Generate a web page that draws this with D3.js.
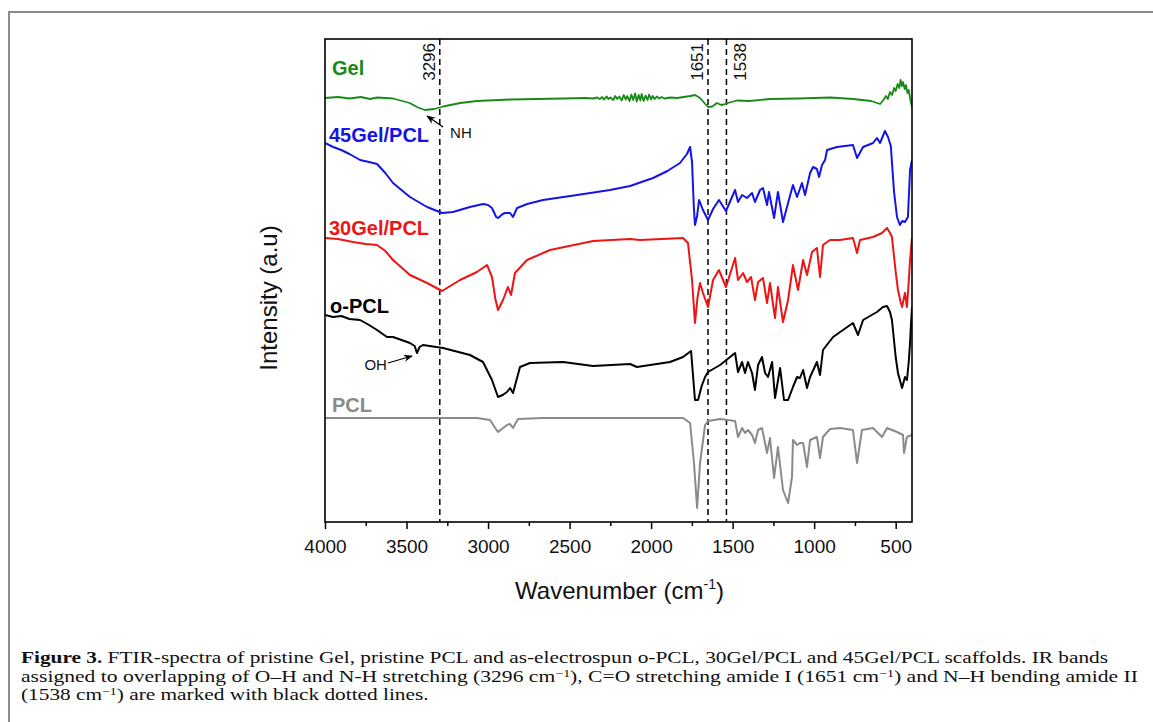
<!DOCTYPE html>
<html>
<head>
<meta charset="utf-8">
<script src="https://cdn.jsdelivr.net/npm/d3@7"></script>
<style>
    body { margin: 0; background: #fff; }
    svg text { font-family: "Liberation Sans", Arial, sans-serif; }
    svg text.caption { font-family: "Liberation Serif", "Times New Roman", serif; }
</style>
</head>
<body>
<svg id="chart" width="1153" height="722"></svg>
<script>
// x axis ticks (wavenumber, cm-1)
const wavenumberTicks = [4000, 3500, 3000, 2500, 2000, 1500, 1000, 500];
const minorTicks = [3750, 3250, 2750, 2250, 1750, 1250, 750];
// bands marked with dashed lines
const markerBands = [3296, 1651, 1538];

// spectra: [wavenumber, intensity (a.u.)], stacked with offsets as in the figure
const gelData = [
    [4000, 42.4], [3920, 42.5], [3850, 42.35], [3780, 42.5], [3724, 42.3], [3680, 42.45], [3583, 42.35],
    [3480, 41.9], [3430, 41.45], [3387, 41.2], [3330, 41.3], [3276, 41.55], [3170, 41.9], [3068, 42.1],
    [2865, 42.25], [2700, 42.3], [2540, 42.35], [2400, 42.4], [2356, 42.35], [2330, 42.45], [2315, 42.3],
    [2300, 42.5], [2290, 42.25], [2272, 42.55], [2262, 42.3], [2250, 42.45], [2232, 42.2], [2220, 42.6],
    [2208, 42.3], [2195, 42.55], [2180, 42.15], [2168, 42.7], [2155, 42.25], [2147, 42.6], [2132, 42.1],
    [2121, 42.75], [2110, 42.2], [2098, 42.85], [2088, 42.05], [2076, 42.7], [2066, 42.15], [2058, 42.8],
    [2046, 42.1], [2034, 42.65], [2022, 42.2], [2012, 42.75], [2000, 42.25], [1990, 42.6], [1978, 42.3],
    [1965, 42.55], [1950, 42.35], [1936, 42.5], [1920, 42.35], [1880, 42.45], [1840, 42.4],
    [1800, 42.5], [1760, 42.6], [1730, 42.7], [1700, 42.4], [1665, 41.75], [1651, 41.5],
    [1625, 41.55], [1596, 41.9], [1570, 41.7], [1555, 41.75], [1520, 41.95], [1473, 42.15], [1400, 42.1],
    [1270, 42.3], [1100, 42.35], [900, 42.45], [760, 42.3], [650, 42.1], [596, 41.8], [575, 42.2],
    [560, 42.6], [548, 42.3], [535, 43.0], [522, 42.7], [510, 43.4], [500, 43.1], [488, 43.8],
    [478, 43.4], [470, 44.2], [462, 43.6], [455, 44.0], [445, 43.3], [437, 43.7], [428, 42.9],
    [420, 43.2], [412, 42.4], [400, 41.5]
];
const gelPcl45Data = [
    [4000, 37.9], [3950, 37.5], [3900, 37.2], [3850, 36.8], [3785, 36.2], [3730, 36.0], [3681, 35.8],
    [3630, 34.9], [3583, 33.9], [3479, 32.5], [3374, 31.5], [3282, 30.9], [3215, 31.0], [3111, 31.5],
    [3030, 31.8], [3000, 31.7], [2976, 31.4], [2950, 30.5], [2939, 30.4], [2910, 30.8], [2896, 30.9],
    [2865, 30.9], [2847, 30.5], [2822, 31.4], [2760, 31.8], [2663, 32.2], [2454, 32.7], [2252, 33.2],
    [2129, 33.6], [1988, 34.4], [1900, 35.1], [1823, 35.9], [1780, 36.8], [1761, 37.5], [1749, 36.0],
    [1738, 31.5], [1731, 29.7], [1718, 30.6], [1706, 32.2], [1682, 31.2], [1651, 30.2], [1620, 31.3],
    [1584, 32.2], [1541, 31.1], [1485, 33.2], [1467, 32.0], [1442, 32.7], [1412, 32.4], [1381, 32.9],
    [1363, 32.0], [1332, 33.2], [1314, 33.4], [1289, 31.7], [1277, 33.0], [1246, 30.4], [1222, 33.0],
    [1191, 30.0], [1160, 31.9], [1130, 33.7], [1105, 32.5], [1075, 33.9], [1056, 32.7], [1025, 34.9],
    [1007, 35.5], [983, 35.3], [970, 34.5], [952, 35.7], [933, 36.2], [921, 37.2], [860, 37.5],
    [762, 37.7], [737, 36.4], [700, 37.5], [639, 37.9], [615, 38.4], [596, 37.9], [566, 39.1],
    [547, 38.5], [530, 37.6], [510, 33.0], [492, 30.5], [474, 29.7], [460, 30.1], [443, 30.0],
    [425, 30.5], [418, 33.0], [412, 35.2], [400, 36.2]
];
const gelPcl30Data = [
    [4000, 28.4], [3920, 28.3], [3828, 28.0], [3750, 27.8], [3681, 27.7], [3630, 27.1], [3583, 26.2],
    [3479, 24.7], [3374, 23.9], [3282, 23.1], [3172, 24.2], [3068, 25.0], [3006, 25.7], [2976, 24.5],
    [2955, 22.3], [2939, 21.2], [2908, 22.2], [2878, 23.5], [2859, 22.7], [2835, 24.9], [2761, 26.2],
    [2620, 27.2], [2356, 28.1], [2129, 28.3], [2068, 28.2], [1804, 28.4], [1774, 27.9], [1749, 24.2],
    [1731, 19.9], [1715, 22.5], [1700, 23.9], [1682, 22.9], [1651, 21.5], [1620, 24.2], [1584, 25.2],
    [1541, 23.5], [1485, 26.4], [1467, 24.2], [1436, 24.9], [1412, 24.0], [1387, 24.5], [1363, 22.2],
    [1344, 24.0], [1314, 24.4], [1289, 21.9], [1271, 23.9], [1240, 20.4], [1222, 23.5], [1191, 20.0],
    [1160, 22.2], [1130, 25.7], [1099, 23.2], [1068, 26.2], [1044, 24.7], [1013, 27.0], [983, 27.4],
    [964, 24.5], [946, 27.7], [903, 28.2], [842, 28.2], [762, 28.4], [737, 26.9], [719, 28.2],
    [639, 28.5], [584, 28.9], [553, 29.4], [535, 28.9], [523, 28.5], [500, 25.0], [486, 23.2],
    [470, 22.0], [461, 21.5], [443, 22.9], [431, 21.5], [420, 24.0], [412, 26.2], [400, 28.4]
];
const oPclData = [
    [4000, 20.7], [3950, 20.5], [3900, 20.6], [3850, 20.3], [3785, 20.2], [3730, 19.7], [3681, 19.2],
    [3620, 18.5], [3583, 18.5], [3530, 18.2], [3479, 17.9], [3450, 17.6], [3436, 16.9], [3420, 17.5],
    [3399, 17.7], [3276, 17.4], [3111, 16.7], [3031, 16.0], [2976, 14.2], [2939, 12.5], [2910, 12.7],
    [2884, 13.0], [2865, 13.4], [2847, 12.9], [2804, 15.5], [2743, 15.9], [2540, 16.0], [2356, 15.6],
    [2129, 15.8], [2087, 15.5], [1884, 16.0], [1804, 16.5], [1755, 17.1], [1731, 12.2], [1712, 12.2],
    [1690, 13.6], [1669, 14.5], [1651, 15.0], [1577, 15.7], [1485, 16.9], [1467, 15.0], [1442, 16.0],
    [1424, 14.9], [1406, 16.0], [1381, 14.9], [1363, 13.2], [1344, 15.7], [1320, 16.5], [1301, 14.9],
    [1283, 14.5], [1258, 16.0], [1240, 12.4], [1209, 15.4], [1185, 12.2], [1160, 12.2], [1130, 13.5],
    [1105, 14.5], [1087, 14.4], [1068, 15.2], [1044, 13.4], [1025, 14.5], [983, 16.0], [964, 14.7],
    [946, 17.2], [884, 18.5], [823, 19.2], [762, 19.9], [731, 18.7], [700, 20.2], [615, 21.0],
    [578, 21.5], [553, 21.6], [535, 21.0], [523, 20.2], [500, 16.5], [486, 14.9], [461, 13.4],
    [443, 14.5], [431, 14.2], [420, 16.0], [412, 17.9], [406, 19.8], [400, 21.5]
];
const pclData = [
    [4000, 10.4], [3500, 10.4], [3068, 10.4], [2988, 10.2], [2960, 9.5], [2939, 9.0], [2884, 9.7],
    [2865, 9.8], [2847, 9.4], [2816, 10.3], [2663, 10.4], [2191, 10.4], [1804, 10.4], [1761, 9.9],
    [1737, 5.9], [1718, 1.4], [1700, 5.9], [1669, 9.7], [1651, 10.1], [1577, 10.3], [1485, 10.1],
    [1467, 8.5], [1442, 9.4], [1424, 8.9], [1406, 9.2], [1381, 8.7], [1363, 7.9], [1344, 9.2],
    [1320, 9.4], [1289, 6.9], [1271, 8.4], [1246, 4.4], [1222, 7.5], [1191, 3.2], [1160, 1.9],
    [1136, 4.5], [1130, 8.2], [1105, 7.7], [1087, 7.9], [1068, 7.9], [1044, 5.5], [1025, 8.2],
    [983, 8.5], [964, 6.4], [946, 8.5], [903, 9.3], [842, 9.4], [762, 9.2], [737, 5.9], [707, 9.2],
    [639, 9.4], [584, 8.5], [553, 9.4], [492, 9.0], [455, 8.7], [449, 6.9], [431, 8.5], [400, 8.7]
];

const seriesNames = ["Gel", "45Gel/PCL", "30Gel/PCL", "o-PCL", "PCL"];
const seriesColors = ["#178a17", "#1414e6", "#ee1414", "#000000", "#8a8a8a"];
const seriesData = [gelData, gelPcl45Data, gelPcl30Data, oPclData, pclData];

const captionBold = "Figure 3.";
const captionLines = [
    " FTIR-spectra of pristine Gel, pristine PCL and as-electrospun o-PCL, 30Gel/PCL and 45Gel/PCL scaffolds. IR bands",
    ["assigned to overlapping of O\u2013H and N-H stretching (3296 cm", "\u22121", "), C=O stretching amide I (1651 cm", "\u22121", ") and N\u2013H bending amide II"],
    ["(1538 cm", "\u22121", ") are marked with black dotted lines."]
];

let svg = d3.select("#chart");
let plotLeft = 325, plotRight = 912, plotTop = 39, plotBottom = 522;

let x = d3.scaleLinear().domain([4000, 400]).range([plotLeft, plotRight]);
let y = d3.scaleLinear().domain([0, 48.3]).range([plotBottom, plotTop]);

// outer figure frame (only top and left edges are visible)
svg.append("path")
    .attr("d", "M9,722 V12 H1153")
    .attr("fill", "none")
    .attr("stroke", "#8c8c8c")
    .attr("stroke-width", 2);

let defs = svg.append("defs");
defs.append("clipPath").attr("id", "clip")
    .append("rect")
    .attr("x", plotLeft).attr("y", plotTop)
    .attr("width", plotRight - plotLeft).attr("height", plotBottom - plotTop);

defs.append("marker")
    .attr("id", "arrow")
    .attr("viewBox", "0 0 10 10")
    .attr("refX", 9).attr("refY", 5)
    .attr("markerWidth", 7).attr("markerHeight", 7)
    .attr("orient", "auto")
    .append("path")
    .attr("d", "M0,1 L10,5 L0,9 L3,5 Z")
    .attr("fill", "#000");

// axes
let xAxis = d3.axisBottom(x).tickValues(wavenumberTicks).tickFormat(d3.format("d"))
    .tickSize(7).tickPadding(11).tickSizeOuter(0);
let gx = svg.append("g").attr("transform", `translate(0,${plotBottom})`).call(xAxis);
gx.select(".domain").remove();
gx.selectAll(".tick line").attr("stroke", "#000").attr("stroke-width", 1.5);
gx.selectAll(".tick text")
    .attr("font-size", 19)
    .attr("fill", "#111")
    .style("font-family", "'Liberation Sans', Arial, sans-serif");

let minorAxis = d3.axisBottom(x).tickValues(minorTicks).tickSize(4).tickFormat("").tickSizeOuter(0);
let gm = svg.append("g").attr("transform", `translate(0,${plotBottom})`).call(minorAxis);
gm.select(".domain").remove();
gm.selectAll(".tick line").attr("stroke", "#000").attr("stroke-width", 1.5);

// dashed marker lines
let bands = svg.append("g");
markerBands.forEach(function (band, i) {
    bands.append("line")
        .attr("x1", x(band)).attr("x2", x(band))
        .attr("y1", plotTop).attr("y2", plotBottom)
        .attr("stroke", "#000")
        .attr("stroke-width", 1.5)
        .attr("stroke-dasharray", "6,4");
    let bx = i === 2 ? x(band) + 20 : x(band) - 5;
    bands.append("text")
        .attr("transform", `translate(${bx},${plotTop + 4}) rotate(-90)`)
        .attr("text-anchor", "end")
        .attr("font-size", 17)
        .attr("fill", "#111")
        .text(band);
});

// spectra
let line = d3.line()
    .x(function (d) { return x(d[0]); })
    .y(function (d) { return y(d[1]); });

let spectra = svg.append("g").attr("clip-path", "url(#clip)");
for (let i = 0; i < seriesData.length; i++) {
    spectra.append("path")
        .datum(seriesData[i])
        .attr("fill", "none")
        .attr("stroke", seriesColors[i])
        .attr("stroke-width", i === 0 ? 1.8 : 2)
        .attr("stroke-linejoin", "round")
        .attr("d", line);
}

// series labels
let labelPos = [[332, 75], [329, 142], [329, 235], [330, 313], [332, 412]];
for (let i = 0; i < seriesNames.length; i++) {
    svg.append("text")
        .attr("x", labelPos[i][0])
        .attr("y", labelPos[i][1])
        .attr("font-size", 20)
        .attr("font-weight", "bold")
        .attr("fill", seriesColors[i])
        .text(seriesNames[i]);
}

// NH / OH annotations
svg.append("line")
    .attr("x1", x(3276)).attr("y1", y(39.5))
    .attr("x2", x(3374)).attr("y2", y(40.6))
    .attr("stroke", "#000").attr("stroke-width", 1.3)
    .attr("marker-end", "url(#arrow)");
svg.append("text")
    .attr("x", x(3233)).attr("y", y(38.4))
    .attr("font-size", 15).attr("fill", "#111")
    .text("NH");

svg.append("line")
    .attr("x1", x(3614)).attr("y1", y(15.9))
    .attr("x2", x(3466)).attr("y2", y(16.6))
    .attr("stroke", "#000").attr("stroke-width", 1.3)
    .attr("marker-end", "url(#arrow)");
svg.append("text")
    .attr("x", x(3620)).attr("y", y(15.2))
    .attr("text-anchor", "end")
    .attr("font-size", 15).attr("fill", "#111")
    .text("OH");

// plot frame
svg.append("rect")
    .attr("x", plotLeft).attr("y", plotTop)
    .attr("width", plotRight - plotLeft).attr("height", plotBottom - plotTop)
    .attr("fill", "none")
    .attr("stroke", "#000")
    .attr("stroke-width", 1.6);

// axis titles
let xt = svg.append("text")
    .attr("x", (plotLeft + plotRight) / 2 + 1)
    .attr("y", 599)
    .attr("text-anchor", "middle")
    .attr("font-size", 24)
    .attr("fill", "#111");
xt.append("tspan").text("Wavenumber (cm");
xt.append("tspan").attr("font-size", 14).attr("dy", -10).text("-1");
xt.append("tspan").attr("dy", 10).text(")");

svg.append("text")
    .attr("transform", "translate(277,298) rotate(-90)")
    .attr("text-anchor", "middle")
    .attr("font-size", 24)
    .attr("fill", "#111")
    .text("Intensity (a.u)");

// caption: fit line 1 to its width, then squeeze the other lines by the same ratio
let capY = [663, 681.5, 700];
let capLines = [];
for (let i = 0; i < captionLines.length; i++) {
    let t = svg.append("text")
        .attr("class", "caption")
        .attr("x", 21)
        .attr("y", capY[i])
        .attr("font-size", 17)
        .attr("fill", "#111");
    if (i === 0) {
        t.append("tspan").attr("font-weight", "bold").text(captionBold);
        t.append("tspan").text(captionLines[i]);
    } else {
        captionLines[i].forEach(function (part, j) {
            if (j % 2 === 1) {
                t.append("tspan").attr("font-size", 11).attr("dy", -5).text(part);
            } else {
                t.append("tspan").attr("dy", j === 0 ? 0 : 5).text(part);
            }
        });
    }
    capLines.push(t);
}
let ratio = 1087 / capLines[0].node().getComputedTextLength();
capLines.forEach(function (t, i) {
    let w = i === 1 ? 1117 : t.node().getComputedTextLength() * ratio;
    t.attr("textLength", w).attr("lengthAdjust", "spacingAndGlyphs");
});
</script>
</body>
</html>
